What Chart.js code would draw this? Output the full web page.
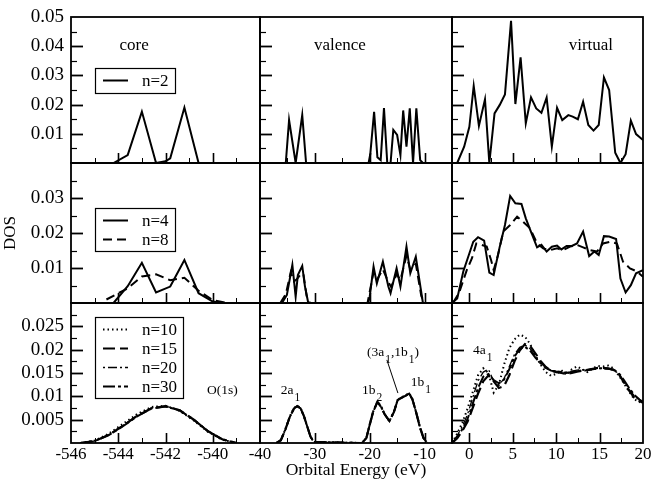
<!DOCTYPE html>
<html><head><meta charset="utf-8">
<script src="https://cdn.jsdelivr.net/npm/chart.js@4.4.1/dist/chart.umd.min.js"></script>
<style>html,body{margin:0;padding:0;background:#fff;}#wrap{width:652px;height:483px;position:relative;}</style>
</head><body><div id="wrap"><canvas id="c" width="652" height="483"></canvas></div>
<script>
// ---------- axis tick labels ----------
const xTicksCore = [-546, -544, -542, -540];
const xTicksVal = [-40, -30, -20, -10];
const xTicksVirt = [0, 5, 10, 15, 20];
const yTicksRow1 = [0.01, 0.02, 0.03, 0.04, 0.05];
const yTicksRow2 = [0.01, 0.02, 0.03];
const yTicksRow3 = [0.005, 0.01, 0.015, 0.02, 0.025];

// ---------- row 1 : n=2 ----------
const coreN2X = [-544.2,-543.6,-543.0,-542.4,-542.0,-541.8,-541.2,-540.6];
const coreN2Y = [0,0.0027,0.0176,0,0.0006,0.0016,0.019,0];
const valN2X = [-35.3,-34.7,-33.5,-32.3,-31.6,-20.2,-19.9,-19.2,-18.6,-18.0,-17.4,-16.8,-16.2,-15.7,-15.0,-14.4,-13.9,-13.3,-12.7,-12.1,-11.5,-10.8,-10.3];
const valN2Y = [0,0.0147,0,0.0164,0,0,0.003,0.0175,0.002,0.001,0.0188,0,0,0.0113,0.0096,0.0027,0.018,0.0056,0.0187,0,0.0187,0.001,0];
const virtN2X = [-1.4,-0.6,0.0,0.5,1.1,1.8,2.3,2.9,3.5,4.1,4.8,5.3,5.9,6.5,7.1,7.7,8.3,8.9,9.5,10.1,10.7,11.4,11.9,12.5,13.1,13.7,14.3,14.9,15.5,16.1,16.8,17.4,18.0,18.6,19.2,20.0];
const virtN2Y = [0,0.0056,0.0124,0.0264,0.0127,0.0218,0,0.017,0.0199,0.0235,0.0487,0.0202,0.0362,0.0136,0.0225,0.0187,0.0172,0.0224,0.0056,0.0189,0.0147,0.0164,0.0159,0.015,0.021,0.013,0.0111,0.013,0.0293,0.025,0.0035,0,0.003,0.0145,0.0099,0.0079];

// ---------- row 2 : n=4, n=8 ----------
const coreN4X = [-544.2,-543.6,-543.0,-542.4,-541.8,-541.2,-540.6,-540.0,-539.6];
const coreN4Y = [0,0.0048,0.0115,0.003,0.0047,0.0123,0.0028,0.0004,0];
const coreN8X = [-544.5,-543.6,-543.0,-542.4,-541.8,-541.2,-540.6,-540.0,-539.4];
const coreN8Y = [0.001,0.0042,0.0076,0.0082,0.0065,0.0072,0.0035,0.0008,0];
const valN4X = [-36.0,-35.1,-34.1,-33.5,-33.1,-32.3,-31.8,-31.2,-20.3,-20.0,-19.3,-18.7,-17.6,-16.6,-16.2,-15.1,-14.4,-13.3,-12.6,-11.6,-10.3];
const valN4Y = [0,0.0023,0.0109,0.0018,0.008,0.0106,0.0047,0,0,0.0018,0.0104,0.0056,0.0118,0.0047,0.0028,0.0099,0.0047,0.0161,0.0085,0.0132,0];
const valN8X = [-36.3,-35.3,-34.4,-33.8,-33.3,-32.6,-32.1,-31.5,-30.9,-20.4,-19.3,-18.7,-17.6,-16.6,-16.1,-15.1,-14.4,-13.3,-12.6,-11.6,-10.6,-10.0];
const valN8Y = [0,0.0025,0.0088,0.0062,0.0068,0.0082,0.0084,0.002,0,0,0.0088,0.0066,0.0096,0.006,0.0046,0.0082,0.0066,0.0135,0.0096,0.0112,0.002,0];
const virtN4X = [-2.0,-1.4,-0.7,0.45,1.0,1.7,2.3,2.8,3.5,4.1,4.7,5.3,6.0,6.5,7.2,7.8,8.3,8.9,9.5,10.1,10.6,11.2,11.8,12.4,13.1,13.8,14.4,14.9,15.5,16.1,16.9,17.4,18.0,18.6,19.2,20.0];
const virtN4Y = [0,0.0013,0.009,0.0175,0.0188,0.0178,0.0087,0.008,0.0161,0.0223,0.0306,0.0285,0.0283,0.0242,0.0197,0.0159,0.0166,0.0147,0.0161,0.0164,0.0153,0.0163,0.0163,0.017,0.0204,0.0134,0.0147,0.0137,0.0191,0.019,0.0183,0.007,0.003,0.0051,0.0085,0.0094];
const virtN8X = [-1.9,-1.2,-0.3,0.3,0.8,1.4,2.0,2.5,2.8,3.3,3.9,4.7,5.5,6.2,7.0,7.8,8.5,9.3,10.1,10.8,11.6,12.4,13.1,13.9,14.7,15.4,16.2,17.0,17.7,18.5,19.3,20.0];
const virtN8Y = [0,0.0028,0.0094,0.0128,0.017,0.0166,0.0161,0.0123,0.0094,0.0137,0.0204,0.0223,0.0247,0.0232,0.0213,0.017,0.0156,0.0151,0.0156,0.0151,0.0161,0.0166,0.0159,0.0151,0.0147,0.017,0.0175,0.017,0.0118,0.0099,0.009,0.0075];

// ---------- row 3 : n=10, 15, 20, 30 ----------
const core3X = [-545.6,-545.0,-544.4,-543.8,-543.2,-542.6,-542.0,-541.4,-540.8,-540.2,-539.6,-539.0];
const coreN10Y = [0,0.0005,0.002,0.0041,0.0062,0.0077,0.008,0.0069,0.0048,0.0024,0.0007,0];
const coreN15Y = [0,0.0004,0.0017,0.0037,0.0058,0.0074,0.0079,0.007,0.005,0.0025,0.0008,0];
const coreN20Y = [0,0.0004,0.0018,0.0038,0.0059,0.0075,0.0079,0.0071,0.0049,0.0026,0.0008,0];
const coreN30Y = [0,0.0004,0.0017,0.0036,0.0057,0.0074,0.0078,0.007,0.005,0.0025,0.0008,0];
const val3X = [-37.0,-36.2,-35.4,-34.6,-33.8,-33.2,-32.6,-32.0,-31.4,-30.8,-30.2,-21.4,-20.6,-20.0,-19.4,-18.6,-17.9,-17.3,-16.4,-15.6,-14.9,-14.2,-13.5,-12.8,-12.2,-11.5,-10.8,-10.2,-9.5];
const valN10Y = [0,0.0006,0.0029,0.0056,0.0075,0.008,0.0075,0.0058,0.0036,0.0014,0.0002,0,0.0012,0.004,0.0067,0.0089,0.0078,0.0062,0.0047,0.0067,0.0093,0.0098,0.0102,0.0107,0.0094,0.0064,0.0032,0.0011,0];
const valN15Y = [0,0.0006,0.0028,0.0055,0.0074,0.0079,0.0074,0.0058,0.0036,0.0014,0.0002,0,0.0011,0.0039,0.0066,0.0088,0.0077,0.0062,0.0047,0.0066,0.0092,0.0097,0.0101,0.0106,0.0093,0.0064,0.0032,0.0011,0];
const valN20Y = [0,0.0006,0.0027,0.0055,0.0074,0.0079,0.0074,0.0057,0.0035,0.0013,0.0002,0,0.0011,0.0038,0.0065,0.0087,0.0077,0.0061,0.0046,0.0066,0.0092,0.0097,0.0101,0.0106,0.0093,0.0063,0.0031,0.0011,0];
const valN30Y = [0,0.0006,0.0028,0.0055,0.0074,0.0079,0.0074,0.0058,0.0036,0.0014,0.0002,0,0.0011,0.0039,0.0066,0.0088,0.0077,0.0062,0.0047,0.0066,0.0092,0.0097,0.0101,0.0106,0.0093,0.0064,0.0032,0.0011,0];
const virt3X = [-2,-1.4,-0.8,-0.2,0.4,1.0,1.6,2.2,2.8,3.4,4.0,4.6,5.2,5.8,6.4,7.0,7.6,8.2,8.8,9.4,10.0,10.6,11.2,11.8,12.4,13.0,13.6,14.2,14.8,15.4,16.0,16.6,17.2,17.8,18.4,19.0,19.6,20];
const virtN10Y = [0,0.002,0.0044,0.0074,0.011,0.0145,0.016,0.015,0.0108,0.0125,0.0168,0.0203,0.0222,0.0232,0.0228,0.0212,0.0188,0.0168,0.0152,0.0144,0.0148,0.0156,0.0146,0.0158,0.0164,0.0158,0.0152,0.016,0.0165,0.0164,0.0166,0.016,0.0145,0.0128,0.011,0.0094,0.0088,0.0084];
const virtN15Y = [0,0.001,0.0026,0.0046,0.0076,0.0106,0.0132,0.0145,0.0132,0.0118,0.0122,0.0145,0.0175,0.0198,0.0212,0.0208,0.0192,0.0176,0.0163,0.0155,0.0152,0.015,0.0148,0.015,0.0153,0.0155,0.0157,0.0159,0.0161,0.0161,0.016,0.0157,0.0148,0.013,0.0112,0.0097,0.009,0.0086];
const virtN20Y = [0,0.0016,0.0036,0.0062,0.0098,0.0133,0.0152,0.0158,0.0132,0.0124,0.0138,0.0164,0.019,0.0205,0.021,0.0202,0.0186,0.0172,0.0162,0.0156,0.0154,0.0153,0.0152,0.0154,0.0156,0.0157,0.0157,0.0158,0.016,0.0159,0.0159,0.0156,0.0149,0.0132,0.0115,0.0101,0.0092,0.0088];
const virtN30Y = [0,0.0012,0.003,0.0052,0.0085,0.0118,0.0142,0.0148,0.0135,0.0128,0.0136,0.0158,0.0185,0.0202,0.0206,0.0198,0.0183,0.0171,0.0161,0.0155,0.0153,0.0152,0.015,0.0152,0.0155,0.0155,0.0156,0.0158,0.016,0.016,0.0159,0.0157,0.015,0.0135,0.0118,0.0103,0.0093,0.0088];

// ---------- styles ----------
const STY = {
  n2: {dash: [], w: 2}, n4: {dash: [], w: 2}, n8: {dash: [9, 5], w: 2},
  n10: {dash: [1.5, 3], w: 2}, n15: {dash: [12, 5], w: 2.2},
  n20: {dash: [2, 3, 9, 3], w: 1.3}, n30: {dash: [12, 3, 3, 3], w: 2}
};
const SERIF = '"Liberation Serif", "Times New Roman", serif';

function ds(key, xs, ys, col, row) {
  return {label: key, data: xs.map((x, i) => ({x: x, y: ys[i]})), xAxisID: col, yAxisID: row,
    borderColor: '#000', borderWidth: STY[key].w, borderDash: STY[key].dash, pointRadius: 0,
    fill: false, tension: 0, borderCapStyle: 'butt', borderJoinStyle: 'miter'};
}

const datasets = [
  ds('n2', coreN2X, coreN2Y, 'x1', 'y1'), ds('n2', valN2X, valN2Y, 'x2', 'y1'), ds('n2', virtN2X, virtN2Y, 'x3', 'y1'),
  ds('n4', coreN4X, coreN4Y, 'x1', 'y2'), ds('n8', coreN8X, coreN8Y, 'x1', 'y2'),
  ds('n4', valN4X, valN4Y, 'x2', 'y2'), ds('n8', valN8X, valN8Y, 'x2', 'y2'),
  ds('n4', virtN4X, virtN4Y, 'x3', 'y2'), ds('n8', virtN8X, virtN8Y, 'x3', 'y2'),
  ds('n10', core3X, coreN10Y, 'x1', 'y3'), ds('n15', core3X, coreN15Y, 'x1', 'y3'), ds('n20', core3X, coreN20Y, 'x1', 'y3'), ds('n30', core3X, coreN30Y, 'x1', 'y3'),
  ds('n10', val3X, valN10Y, 'x2', 'y3'), ds('n15', val3X, valN15Y, 'x2', 'y3'), ds('n20', val3X, valN20Y, 'x2', 'y3'), ds('n30', val3X, valN30Y, 'x2', 'y3'),
  ds('n10', virt3X, virtN10Y, 'x3', 'y3'), ds('n15', virt3X, virtN15Y, 'x3', 'y3'), ds('n20', virt3X, virtN20Y, 'x3', 'y3'), ds('n30', virt3X, virtN30Y, 'x3', 'y3')
];

function xScale(min, max, ticks, weight, sw, title) {
  return {type: 'linear', position: 'bottom', stack: 'cols', stackWeight: sw, weight: weight, min: min, max: max,
    grid: {display: false, drawTicks: false}, border: {display: false},
    ticks: {autoSkip: false, maxRotation: 0, padding: 1, color: '#000', font: {family: SERIF, size: 17}, callback: v => String(v)},
    afterBuildTicks: s => { s.ticks = ticks.map(v => ({value: v})); },
    afterFit: s => { s.height = 40; s.paddingLeft = 0; s.paddingRight = 0; },
    title: title ? {display: true, text: title, color: '#000', font: {family: SERIF, size: 17.5}, padding: {top: 0, bottom: 2}} : {display: false}};
}
function yScale(max, ticks, weight, sw, title) {
  return {type: 'linear', position: 'left', stack: 'rows', stackWeight: sw, weight: weight, min: 0, max: max,
    grid: {display: false, drawTicks: false}, border: {display: false},
    ticks: {autoSkip: false, padding: 7, color: '#000', font: {family: SERIF, size: 19}, callback: v => String(+(+v).toFixed(4))},
    afterBuildTicks: s => { s.ticks = ticks.map(v => ({value: v})); },
    afterFit: s => { s.width = 71; s.paddingTop = 0; s.paddingBottom = 0; },
    title: title ? {display: true, text: title, color: '#000', font: {family: SERIF, size: 17}, padding: {top: 0, bottom: 0}} : {display: false}};
}

// minor/major inward ticks per column / row
const colTicks = {
  x1: {major: [-544, -542, -540], minor: [-545, -543, -541, -539]},
  x2: {major: [-30, -20, -10], minor: [-35, -25, -15]},
  x3: {major: [0, 5, 10, 15], minor: [2.5, 7.5, 12.5, 17.5]}
};
const rowTicks = {
  y1: {major: [0.01, 0.02, 0.03, 0.04], minor: [0.005, 0.015, 0.025, 0.035, 0.045]},
  y2: {major: [0.01, 0.02, 0.03], minor: [0.005, 0.015, 0.025, 0.035]},
  y3: {major: [0.005, 0.01, 0.015, 0.02, 0.025], minor: [0.0025, 0.0075, 0.0125, 0.0175, 0.0225, 0.0275]}
};

const panelTitles = [
  {text: 'core', col: 'x1', row: 'y1', x: -543.33, y: 0.0387},
  {text: 'valence', col: 'x2', row: 'y1', x: -25.43, y: 0.0387},
  {text: 'virtual', col: 'x3', row: 'y1', x: 14.0, y: 0.0387}
];
const peakLabels = [
  {segs: [['O(1s)', 0]], col: 'x1', row: 'y3', x: -540.24, y: 0.0105},
  {segs: [['2a', 0], ['1', 1]], col: 'x2', row: 'y3', x: -36.2, y: 0.0105},
  {segs: [['1b', 0], ['2', 1]], col: 'x2', row: 'y3', x: -21.42, y: 0.0105},
  {segs: [['(3a', 0], ['1', 1], [',1b', 0], ['1', 1], [')', 0]], col: 'x2', row: 'y3', x: -20.51, y: 0.0186},
  {segs: [['1b', 0], ['1', 1]], col: 'x2', row: 'y3', x: -12.5, y: 0.0122},
  {segs: [['4a', 0], ['1', 1]], col: 'x3', row: 'y3', x: 0.42, y: 0.0191}
];
const leader = {col: 'x2', row: 'y3', x0: -16.87, y0: 0.0178, x1: -14.86, y1: 0.0107};

const legends = [
  {row: 'y1', dy: 51, w: 80, h: 25, items: [['n2', 'n=2']]},
  {row: 'y2', dy: 45, w: 80, h: 43, items: [['n4', 'n=4'], ['n8', 'n=8']]},
  {row: 'y3', dy: 14, w: 88, h: 81, items: [['n10', 'n=10'], ['n15', 'n=15'], ['n20', 'n=20'], ['n30', 'n=30']]}
];

const decor = {
  id: 'decor',
  afterDraw(chart) {
    const ctx = chart.ctx, S = chart.scales;
    ctx.save();
    ctx.strokeStyle = '#000'; ctx.fillStyle = '#000';
    for (const c of ['x1', 'x2', 'x3']) {
      for (const r of ['y1', 'y2', 'y3']) {
        const xs = S[c], ys = S[r];
        ctx.setLineDash([]);
        for (const [list, len, lw] of [[colTicks[c].major, 10, 1.6], [colTicks[c].minor, 5, 1]]) {
          ctx.lineWidth = lw;
          for (const v of list) {
            const px = Math.round(xs.getPixelForValue(v)) + 0.5;
            ctx.beginPath(); ctx.moveTo(px, ys.bottom); ctx.lineTo(px, ys.bottom - len); ctx.stroke();
          }
        }
        for (const [list, len, lw] of [[rowTicks[r].major, 12, 1.8], [rowTicks[r].minor, 6, 1.2]]) {
          ctx.lineWidth = lw;
          for (const v of list) {
            const py = Math.round(ys.getPixelForValue(v)) + 0.5;
            ctx.beginPath(); ctx.moveTo(xs.left, py); ctx.lineTo(xs.left + len, py); ctx.stroke();
          }
        }
        ctx.lineWidth = 1.8;
        ctx.strokeRect(xs.left, ys.top, xs.right - xs.left, ys.bottom - ys.top);
      }
    }
    ctx.font = '17px ' + SERIF; ctx.textAlign = 'center'; ctx.textBaseline = 'alphabetic';
    for (const t of panelTitles) ctx.fillText(t.text, S[t.col].getPixelForValue(t.x), S[t.row].getPixelForValue(t.y));
    ctx.textAlign = 'left';
    for (const p of peakLabels) {
      let cx = S[p.col].getPixelForValue(p.x); const by = S[p.row].getPixelForValue(p.y);
      for (const [t, sub] of p.segs) {
        ctx.font = (sub ? 11.5 : 13.5) + 'px ' + SERIF;
        if (sub) cx += 1;
        ctx.fillText(t, cx, sub ? by + 7 : by);
        cx += ctx.measureText(t).width;
      }
    }
    ctx.lineWidth = 1; ctx.beginPath();
    ctx.moveTo(S[leader.col].getPixelForValue(leader.x0), S[leader.row].getPixelForValue(leader.y0));
    ctx.lineTo(S[leader.col].getPixelForValue(leader.x1), S[leader.row].getPixelForValue(leader.y1));
    ctx.stroke();
    const left = S.x1.left;
    for (const L of legends) {
      const top = S[L.row].top + L.dy, bx = left + 24;
      ctx.setLineDash([]); ctx.lineWidth = 1.2;
      ctx.fillStyle = '#fff'; ctx.fillRect(bx, top, L.w, L.h); ctx.fillStyle = '#000';
      ctx.strokeRect(bx + 0.5, top + 0.5, L.w, L.h);
      const step = L.items.length > 1 ? (L.h - 24) / (L.items.length - 1) : 0;
      L.items.forEach((it, i) => {
        const iy = top + 12.5 + i * step;
        const st = STY[it[0]];
        ctx.setLineDash(st.dash); ctx.lineWidth = st.w; ctx.lineCap = 'butt';
        ctx.beginPath(); ctx.moveTo(bx + 8, iy); ctx.lineTo(bx + 33, iy); ctx.stroke();
        ctx.setLineDash([]);
        ctx.font = '17px ' + SERIF; ctx.textBaseline = 'middle';
        ctx.fillText(it[1], bx + 47, iy + 1);
      });
      ctx.textBaseline = 'alphabetic';
    }
    ctx.restore();
  }
};

new Chart(document.getElementById('c'), {
  type: 'line',
  data: {datasets: datasets},
  options: {
    responsive: false, animation: false, devicePixelRatio: 1,
    layout: {padding: {left: 0, right: 9, top: 17, bottom: 0}},
    plugins: {legend: {display: false}, tooltip: {enabled: false}},
    scales: {
      x1: xScale(-546, -538, xTicksCore, 1, 189, null),
      x2: xScale(-40, -5, xTicksVal, 2, 192, 'Orbital Energy (eV)'),
      x3: xScale(-2, 20, xTicksVirt, 3, 191, null),
      y1: yScale(0.05, yTicksRow1, 3, 146, null),
      y2: yScale(0.04, yTicksRow2, 2, 140, 'DOS'),
      y3: yScale(0.03, yTicksRow3, 1, 140, null)
    }
  },
  plugins: [decor]
});
</script></body></html>
